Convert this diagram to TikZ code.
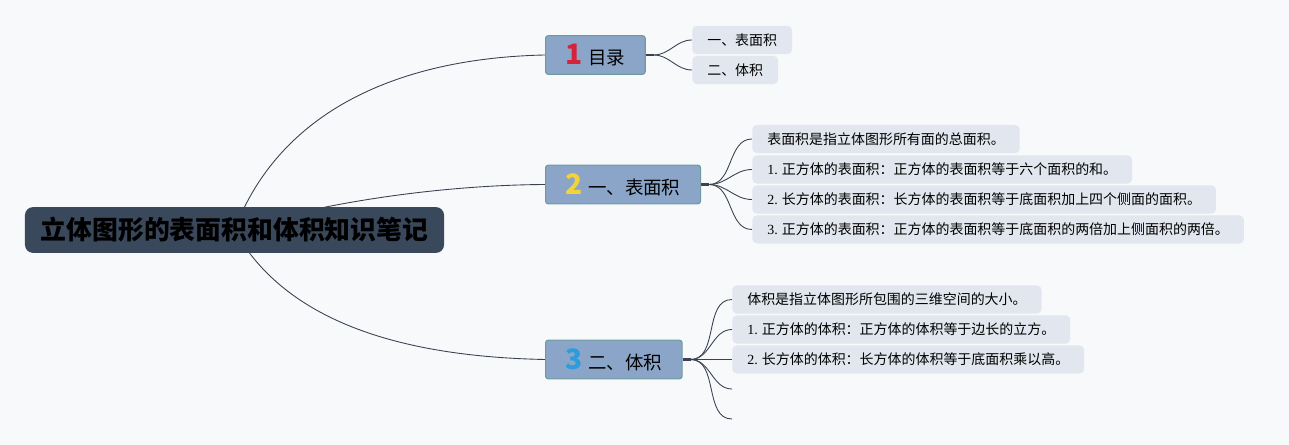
\documentclass[tikz,border=0pt]{standalone}
\usepackage{fontspec}
\setmainfont{Noto Sans CJK SC}
\newfontfamily\numfont{Liberation Serif}
\usetikzlibrary{positioning}
\definecolor{bgcol}{HTML}{F8F9FB}
\definecolor{rootcol}{HTML}{3A485C}
\definecolor{topiccol}{HTML}{8BA5C8}
\definecolor{topicline}{HTML}{6E9A9E}
\definecolor{leafcol}{HTML}{E2E7EF}
\definecolor{linkcol}{HTML}{3A4252}
\definecolor{numred}{HTML}{D8223B}
\definecolor{numyellow}{HTML}{F2D33A}
\definecolor{numblue}{HTML}{2C9CDE}
\pgfdeclarelayer{back}
\pgfsetlayers{back,main}
\tikzset{
  rootbox/.style = {fill=rootcol, rounded corners=4.5pt, inner xsep=9pt, minimum height=26pt,
    font=\fontsize{14.7}{16}\selectfont\bfseries},
  topicbox/.style = {fill=topiccol, draw=topicline, line width=0.6pt, rounded corners=1.5pt,
    minimum height=22pt, inner xsep=11.5pt, anchor=west, font=\fontsize{10.5}{12}\selectfont},
  leafbox/.style = {fill=leafcol, rounded corners=2.5pt, minimum height=16pt, inner xsep=8.5pt,
    inner ysep=0pt, anchor=west, font=\fontsize{7.95}{9}\selectfont},
  link/.style = {draw=linkcol, line width=0.5pt},
  stub/.style = {draw=linkcol, line width=1.6pt}
}
\newcommand\topicnum[2]{{\fontsize{16}{16}\selectfont\bfseries\color{#1}#2}\hspace{3pt}}
\begin{document}
\begin{tikzpicture}[x=0.02cm, y=-0.02cm]
\useasboundingbox (0,0) rectangle (1289,445);
% root
\node[rootbox] (root) at (234.5,230) {立体图形的表面积和体积知识笔记};
% topics
\node[topicbox] (t1) at (545,55) {\topicnum{numred}{1}目录};
\node[topicbox] (t2) at (545,184.5) {\topicnum{numyellow}{2}一、表面积};
\node[topicbox] (t3) at (545,359.5) {\topicnum{numblue}{3}二、体积};
\coordinate[right=4.5pt of t1] (h1);
\coordinate[right=4.5pt of t2] (h2);
\coordinate[right=4.5pt of t3] (h3);
% leaves
\node[leafbox] (l11) at (692,40) {一、表面积};
\node[leafbox] (l12) at (692,70) {二、体积};
\node[leafbox] (l21) at (752,139) {表面积是指立体图形所有面的总面积。};
\node[leafbox] (l22) at (752,169.5) {{\numfont 1.} 正方体的表面积：正方体的表面积等于六个面积的和。};
\node[leafbox] (l23) at (752,199.5) {{\numfont 2.} 长方体的表面积：长方体的表面积等于底面积加上四个侧面的面积。};
\node[leafbox] (l24) at (752,229.5) {{\numfont 3.} 正方体的表面积：正方体的表面积等于底面积的两倍加上侧面积的两倍。};
\node[leafbox] (l31) at (732,299.5) {体积是指立体图形所包围的三维空间的大小。};
\node[leafbox] (l32) at (732,329.5) {{\numfont 1.} 正方体的体积：正方体的体积等于边长的立方。};
\node[leafbox] (l33) at (732,359.5) {{\numfont 2.} 长方体的体积：长方体的体积等于底面积乘以高。};
\coordinate (l34) at (732,389);
\coordinate (l35) at (732,419);
% links
\begin{pgfonlayer}{back}
\fill[bgcol] (0,0) rectangle (1289,445);
\draw[link] (root.center) .. controls (280,110) and (400,58) .. (t1.west);
\draw[link] (root.center) .. controls (330,200) and (450,185) .. (t2.west);
\draw[link] (root.center) .. controls (290,330) and (420,357) .. (t3.west);
\foreach \n in {t1,t2,t3} \draw[stub] (\n.east) -- +(4.5pt,0);
\foreach \n in {l11.west,l12.west} \draw[link] (h1) to[out=0,in=180] (\n);
\foreach \n in {l21.west,l22.west,l23.west,l24.west} \draw[link] (h2) to[out=0,in=180] (\n);
\foreach \n in {l31.west,l32.west,l33.west,l34,l35} \draw[link] (h3) to[out=0,in=180] (\n);
\end{pgfonlayer}
\end{tikzpicture}
\end{document}
